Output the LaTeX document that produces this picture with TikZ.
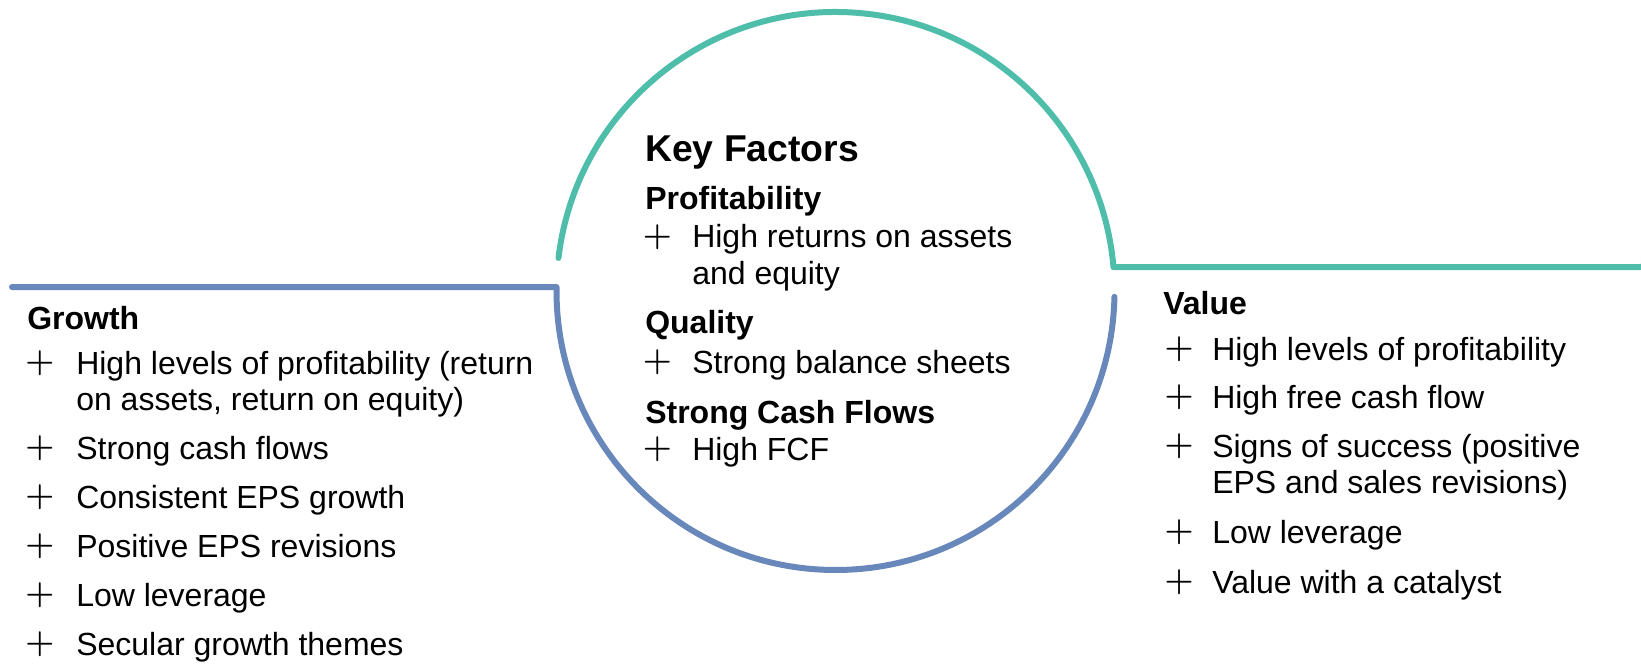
\documentclass[tikz,border=0pt]{standalone}
\usepackage{fontspec}
\setmainfont{Liberation Sans}
\usetikzlibrary{calc,positioning}
\definecolor{ringteal}{RGB}{78,190,171}
\definecolor{ringblue}{RGB}{104,135,186}

\begin{document}
\begin{tikzpicture}[x=0.75pt,y=0.75pt,
    ring/.style={line width=4.5pt, line cap=round, line join=round},
    title/.style={anchor=base west, inner sep=0pt, font=\fontsize{28}{34}\selectfont\bfseries},
    head/.style={anchor=base west, inner sep=0pt, font=\fontsize{24}{30}\selectfont\bfseries},
    entry/.style={anchor=base west, inner sep=0pt, font=\fontsize{24}{30}\selectfont},
    plus/.style={anchor=center, inner sep=0pt, font=\fontsize{26}{30}\selectfont\boldmath}]
    \useasboundingbox (0,0) rectangle (1641,665);

    % ring and the two rails
    \coordinate (hub) at (835.5,374);
    \coordinate (growthend) at (12,378);
    \coordinate (valueend) at (1641,398);
    \draw[ring, ringteal] ($(hub)+(173.2:279)$) arc[start angle=173.2, end angle=4.9, radius=279] -- (valueend);
    \draw[ring, ringblue] (growthend) -- ($(hub)+(179.2:279)$) arc[start angle=179.2, end angle=358.8, radius=279];

    % centre: key factors
    \node[title] (keyfactors) at (645,503) {Key Factors};
    \node[head] (profit) at (645,455) {Profitability};
    \node[plus] (pk1) at (657.5,428) {$+$};
    \node[entry] (k1) at (692,417) {High returns on assets};
    \node[entry] (k1b) at (692,380) {and equity};
    \node[head] (quality) at (645,332) {Quality};
    \node[plus] (pk2) at (657.5,303) {$+$};
    \node[entry] (k2) at (692,292) {Strong balance sheets};
    \node[head] (cash) at (645,242) {Strong Cash Flows};
    \node[plus] (pk3) at (657.5,216) {$+$};
    \node[entry] (k3) at (692,205) {High FCF};

    % left: growth
    \node[head] (growth) at (27,336) {Growth};
    \node[plus] (pg1) at (40,302) {$+$};
    \node[entry] (g1) at (76,291) {High levels of profitability (return};
    \node[entry] (g1b) at (76,255) {on assets, return on equity)};
    \node[plus] (pg2) at (40,217) {$+$};
    \node[entry] (g2) at (76,206) {Strong cash flows};
    \node[plus] (pg3) at (40,168) {$+$};
    \node[entry] (g3) at (76,157) {Consistent EPS growth};
    \node[plus] (pg4) at (40,119) {$+$};
    \node[entry] (g4) at (76,108) {Positive EPS revisions};
    \node[plus] (pg5) at (40,70) {$+$};
    \node[entry] (g5) at (76,59) {Low leverage};
    \node[plus] (pg6) at (40,21) {$+$};
    \node[entry] (g6) at (76,10) {Secular growth themes};

    % right: value
    \node[head] (value) at (1163,350) {Value};
    \node[plus] (pv1) at (1179,316) {$+$};
    \node[entry] (v1) at (1212,305) {High levels of profitability};
    \node[plus] (pv2) at (1179,268) {$+$};
    \node[entry] (v2) at (1212,257) {High free cash flow};
    \node[plus] (pv3) at (1179,219) {$+$};
    \node[entry] (v3) at (1212,208) {Signs of success (positive};
    \node[entry] (v3b) at (1212,172) {EPS and sales revisions)};
    \node[plus] (pv4) at (1179,133) {$+$};
    \node[entry] (v4) at (1212,122) {Low leverage};
    \node[plus] (pv5) at (1179,83) {$+$};
    \node[entry] (v5) at (1212,72) {Value with a catalyst};
\end{tikzpicture}
\end{document}
